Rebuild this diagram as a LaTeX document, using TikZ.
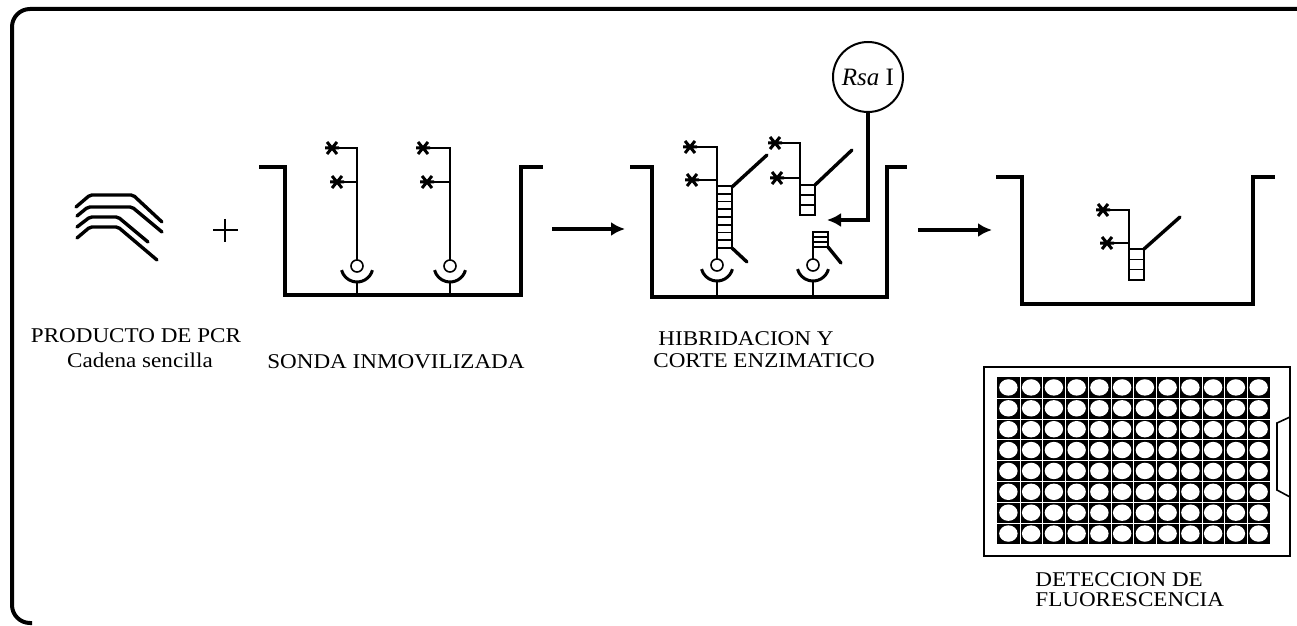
\documentclass[tikz,border=0pt]{standalone}
\usepackage{fontspec}
\setmainfont{Liberation Serif}
\newfontfamily\lblfont[FakeStretch=1.1]{Liberation Serif}
\usetikzlibrary{arrows.meta}

% fluorescent label: a small six-armed star
\newcommand{\fluor}[1]{\draw[fl] (#1) +(-7,0) -- +(7,0) +(-5,-6) -- +(5,6) +(-5,6) -- +(5,-6);}
% bead with its cup and the stem down to the floor of the well
\newcommand{\anchorcup}[3]{%
  \draw[probe] (#1,#2) circle (6);
  \draw[cupline] ({#1+16*cos(15)},{#2+16*sin(15)}) arc[start angle=15,end angle=165,radius=16];
  \draw[probe] (#1,{#2+16}) -- (#1,#3);}
% duplex: x, top, number of rungs, rung height
\newcommand{\ladder}[4]{%
  \foreach \k in {1,...,#3}
    \draw[probe] (#1,{#2+(\k-1)*#4}) rectangle ++(15,#4);}

\begin{document}
\begin{tikzpicture}[x=0.5pt,y=-0.5pt,
  wall/.style={line width=2pt,line join=miter},
  probe/.style={line width=0.8pt},
  strand/.style={line width=1.7pt,line cap=round},
  fl/.style={line width=1.5pt},
  cupline/.style={line width=1.5pt},
  flow/.style={line width=1.9pt,-{Latex[length=7pt,width=7pt]}},
  lbl/.style={inner sep=0pt,font=\lblfont\fontsize{10.5}{12}\selectfont}]

\useasboundingbox (0,0) rectangle (1297,626);

% frame
\draw[line width=2pt,rounded corners=9pt] (1297,9) -- (12,9) -- (12,623) -- (32,623);

% single stranded PCR product
\draw[strand,rounded corners=1pt] (76,207) -- (90,195) -- (133,195) -- (162,222);
\draw[strand,rounded corners=1pt] (77,216) -- (88,207) -- (132,207) -- (162,232);
\draw[strand,rounded corners=1pt] (77,227) -- (90,217) -- (118,217) -- (148,242);
\draw[strand,rounded corners=1pt] (77,238) -- (90,227) -- (118,227) -- (157,260);
\draw[line width=1.1pt] (213,230) -- (238,230) (225,219) -- (225,242);

% well 1: immobilised probes
\draw[wall] (259,167) -- (285,167) -- (285,295) -- (521,295) -- (521,167) -- (543,167);
\draw[probe] (332,148) -- (357,148) -- (357,260) (337,182) -- (357,182);
\fluor{332,148} \fluor{337,182}
\anchorcup{357}{266}{295}
\draw[probe] (423,148) -- (450,148) -- (450,260) (427,182) -- (450,182);
\fluor{423,148} \fluor{427,182}
\anchorcup{450}{266}{295}

\coordinate (a1s) at (552,229);
\coordinate (a1e) at (625,229);
\draw[flow] (a1s) -- (a1e);

% well 2: hybridisation and cut
\draw[wall] (630,167) -- (652,167) -- (652,297) -- (887,297) -- (887,167) -- (907,167);
\draw[probe] (690,147) -- (717,147) -- (717,259) (692,180) -- (717,180);
\fluor{690,147} \fluor{692,180}
\ladder{717}{186}{8}{7.75}
\draw[strand] (732,187) -- (767,155);
\draw[strand] (732,248) -- (747,262);
\anchorcup{717}{265}{297}

% released fragment
\draw[probe] (775,143) -- (800,143) -- (800,185) (777,178) -- (800,178);
\fluor{775,143} \fluor{777,178}
\ladder{800}{185}{3}{10}
\draw[strand] (815,185) -- (852,150);

% cut probe left on the bead
\draw[probe] (813,232) -- (813,259);
\ladder{813}{232}{3}{5}
\draw[strand] (828,247) -- (841,263);
\anchorcup{813}{265}{297}

% restriction enzyme
\node[circle,draw,line width=1pt,minimum size=35pt,inner sep=0pt,font=\fontsize{12.5}{14}\selectfont] (rsa) at (868,77) {\textit{Rsa} I};
\coordinate (cut) at (827,220);
\draw[flow] (rsa.south) |- (cut);

\coordinate (a2s) at (918,230);
\coordinate (a2e) at (992,230);
\draw[flow] (a2s) -- (a2e);

% well 3: labelled fragment remains
\draw[wall] (996,177) -- (1022,177) -- (1022,304) -- (1253,304) -- (1253,177) -- (1275,177);
\draw[probe] (1103,210) -- (1129,210) -- (1129,249) (1107,243) -- (1129,243);
\fluor{1103,210} \fluor{1107,243}
\ladder{1129}{249}{3}{10.3}
\draw[strand] (1144,249) -- (1180,217);

% microplate reader
\draw[line width=0.9pt] (984,367) rectangle (1290,556);
\draw[line width=0.8pt] (1290,417) -- (1277,423) -- (1277,490) -- (1290,497);
\fill (997,377) rectangle (1270,544);
\foreach \i in {1,...,11}
  \draw[white,line width=0.2pt] ({997+22.75*\i},377) -- ++(0,167);
\foreach \j in {1,...,7}
  \draw[white,line width=0.2pt] (997,{377+20.875*\j}) -- ++(273,0);
\foreach \i in {0,...,11}
  \foreach \j in {0,...,7}
    \fill[white] ({997+22.75*(\i+0.5)},{377+20.875*(\j+0.5)}) ellipse [x radius=9.2,y radius=8.2];

% labels
\node[lbl,anchor=base] (pcr1) at (136,343) {PRODUCTO DE PCR};
\node[lbl,anchor=base] (pcr2) at (140,367) {Cadena sencilla};
\node[lbl,anchor=base] (sonda) at (396,368) {SONDA INMOVILIZADA};
\node[lbl,anchor=base west] (hib1) at (658,345) {HIBRIDACION Y};
\node[lbl,anchor=base west] (hib2) at (653,367) {CORTE ENZIMATICO};
\node[lbl,anchor=base west] (det1) at (1035,586) {DETECCION DE};
\node[lbl,anchor=base west] (det2) at (1035,606) {FLUORESCENCIA};

\end{tikzpicture}
\end{document}
